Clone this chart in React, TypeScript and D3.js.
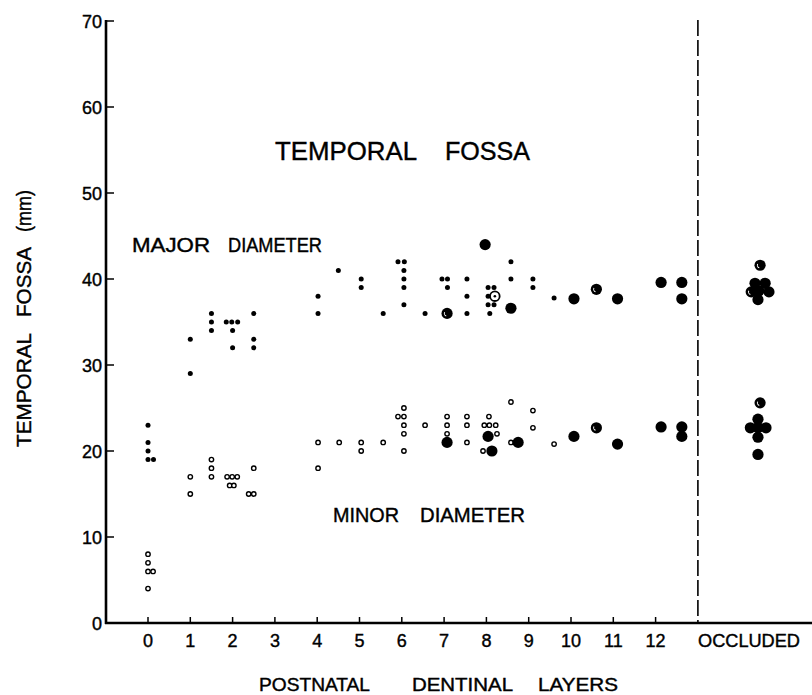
import React from "react";
import * as d3 from "d3";

// ---- data: [postnatal dentinal layers, temporal fossa mm] ----
const majorDots: [number, number][] = [
  [0, 23], [0, 21], [0, 20], [0, 19], [0.13, 19],
  [1, 33], [1, 29],
  [1.5, 36], [1.5, 35], [1.5, 34],
  [1.85, 35], [1.98, 35], [2.12, 35], [2, 34], [2, 32],
  [2.5, 36], [2.5, 33], [2.5, 32],
  [4.02, 38], [4.02, 36],
  [4.5, 41],
  [5.04, 40], [5.04, 39],
  [5.56, 36],
  [5.91, 42], [6.06, 42], [6.05, 41], [6.05, 40], [6.05, 39], [6.05, 37],
  [6.55, 36],
  [6.95, 40], [7.08, 40], [7.08, 39],
  [7.54, 40], [7.54, 38], [7.54, 36],
  [8.04, 39], [8.18, 39], [8.04, 38], [8.04, 37], [8.18, 37], [8.08, 36],
  [8.58, 42], [8.58, 40],
  [9.1, 40], [9.1, 39],
  [9.6, 37.8],
];

const minorRings: [number, number][] = [
  [0, 8], [0, 7], [0, 6], [0.12, 6], [0, 4],
  [1, 17], [1, 15],
  [1.5, 19], [1.5, 18], [1.5, 17],
  [1.87, 17], [1.99, 17], [2.11, 17], [1.93, 16], [2.03, 16],
  [2.5, 18], [2.38, 15], [2.5, 15],
  [4.02, 21], [4.02, 18],
  [4.52, 21],
  [5.04, 21], [5.04, 20],
  [5.56, 21],
  [6.05, 25], [5.91, 24], [6.05, 24], [6.05, 23], [6.05, 22], [6.05, 20],
  [6.55, 23],
  [7.07, 24], [7.07, 23], [7.07, 22],
  [7.54, 24], [7.54, 23], [7.54, 21],
  [8.06, 24], [7.95, 23], [8.07, 23], [8.22, 23], [8.25, 22], [7.92, 20],
  [8.58, 25.7], [8.58, 21],
  [9.1, 24.7], [9.1, 22.7],
  [9.6, 20.8],
];

const largeDots: [number, number][] = [
  [7.97, 44], [8.58, 36.6], [10.07, 37.7], [11.1, 37.7], [12.13, 39.6], [12.62, 39.6], [12.62, 37.7],
  [8.04, 21.7], [8.13, 20], [8.75, 21], [10.07, 21.7], [11.1, 20.8], [12.13, 22.8], [12.62, 22.8], [12.62, 21.7],
  [7.07, 21],
  [14.35, 39.5], [14.59, 39.5], [14.44, 38.6], [14.68, 38.5], [14.42, 37.6],
  [14.42, 23.7], [14.24, 22.7], [14.61, 22.7], [14.42, 22.7], [14.42, 21.6], [14.42, 19.6],
];

const highlightDots: [number, number][] = [
  [7.07, 36], [10.6, 38.8], [14.47, 41.6], [14.26, 38.5],
  [10.6, 22.7], [14.47, 25.6],
];

const openLarge: [number, number][] = [[8.2, 38]];

const xTicks = [0, 1, 2, 3, 4, 5, 6, 7, 8, 9, 10, 11, 12];
const xTickLabels = ["0", "1", "2", "3", "4", "5", "6", "7", "8", "9", "10", "11", "12"];
const yTicks = [0, 10, 20, 30, 40, 50, 60, 70];
const occludedLabel = "OCCLUDED";
const dividerAt = 13;

const FONT = "'Liberation Sans', Arial, sans-serif";

export default function App() {
  const x = d3.scaleLinear().domain([0, 12]).range([148, 655.6]);
  const y = d3.scaleLinear().domain([0, 70]).range([623, 21]);
  const axisX = 106;
  const rightEdge = 812;
  const ts = { fill: "#000", stroke: "#000", strokeWidth: 0.4 };

  return (
    <svg
      width={812}
      height={695}
      style={{ position: "absolute", left: 0, top: 0, background: "#fff" }}
      fontFamily={FONT}
    >
      <rect x={0} y={0} width={812} height={695} fill="#fff" />
      {/* axes */}
      <line x1={axisX} x2={axisX} y1={y(70) - 1} y2={y(0) + 1} stroke="#000" strokeWidth={2.6} />
      <line x1={axisX - 1} x2={rightEdge} y1={y(0)} y2={y(0)} stroke="#000" strokeWidth={2.6} />
      {yTicks.map((t) => (
        <g key={"yt" + t}>
          <line x1={axisX} x2={axisX + 8} y1={y(t)} y2={y(t)} stroke="#000" strokeWidth={1.5} />
          <text x={102} y={y(t) + 6.5} fontSize={18} textAnchor="end" {...ts}>
            {t}
          </text>
        </g>
      ))}
      {xTicks.map((t, i) => (
        <g key={"xt" + t}>
          <line x1={x(t)} x2={x(t)} y1={y(0)} y2={y(0) - 6} stroke="#000" strokeWidth={1.5} />
          <text x={x(t)} y={647} fontSize={18} textAnchor="middle" {...ts}>
            {xTickLabels[i]}
          </text>
        </g>
      ))}
      <text x={698} y={647} fontSize={18} textLength={102} lengthAdjust="spacingAndGlyphs" {...ts}>
        {occludedLabel}
      </text>
      {/* divider */}
      <line
        x1={x(dividerAt)}
        x2={x(dividerAt)}
        y1={y(70) - 1}
        y2={y(0)}
        stroke="#000"
        strokeWidth={1.6}
        strokeDasharray="16,4"
      />
      {/* texts */}
      <text x={275} y={160} fontSize={25} textLength={142} lengthAdjust="spacingAndGlyphs" {...ts}>TEMPORAL</text>
      <text x={445} y={160} fontSize={25} textLength={85} lengthAdjust="spacingAndGlyphs" {...ts}>FOSSA</text>
      <text x={132} y={252} fontSize={19.5} textLength={78} lengthAdjust="spacingAndGlyphs" {...ts}>MAJOR</text>
      <text x={228} y={252} fontSize={19.5} textLength={94} lengthAdjust="spacingAndGlyphs" {...ts}>DIAMETER</text>
      <text x={333} y={522} fontSize={20} textLength={66} lengthAdjust="spacingAndGlyphs" {...ts}>MINOR</text>
      <text x={420} y={522} fontSize={20} textLength={105} lengthAdjust="spacingAndGlyphs" {...ts}>DIAMETER</text>
      <text x={259} y={691} fontSize={18} textLength={111} lengthAdjust="spacingAndGlyphs" {...ts}>POSTNATAL</text>
      <text x={412} y={691} fontSize={18} textLength={101} lengthAdjust="spacingAndGlyphs" {...ts}>DENTINAL</text>
      <text x={538} y={691} fontSize={18} textLength={80} lengthAdjust="spacingAndGlyphs" {...ts}>LAYERS</text>
      <g transform="translate(31,0) rotate(-90)">
        <text x={-447} y={0} fontSize={21} textLength={114} lengthAdjust="spacingAndGlyphs" {...ts}>TEMPORAL</text>
        <text x={-317} y={0} fontSize={21} textLength={70} lengthAdjust="spacingAndGlyphs" {...ts}>FOSSA</text>
        <text x={-232} y={0} fontSize={21} textLength={42} lengthAdjust="spacingAndGlyphs" {...ts}>(mm)</text>
      </g>
      {/* marks */}
      {majorDots.map((d, i) => (
        <circle key={"ma" + i} cx={x(d[0])} cy={y(d[1])} r={2.5} fill="#000" />
      ))}
      {minorRings.map((d, i) => (
        <circle key={"mi" + i} cx={x(d[0])} cy={y(d[1])} r={2.2} fill="#fff" stroke="#000" strokeWidth={1.4} />
      ))}
      {largeDots.map((d, i) => (
        <circle key={"lg" + i} cx={x(d[0])} cy={y(d[1])} r={5.6} fill="#000" />
      ))}
      {highlightDots.map((d, i) => (
        <g key={"hl" + i}>
          <circle cx={x(d[0])} cy={y(d[1])} r={5.6} fill="#000" />
          <path
            d={d3.arc()({ innerRadius: 2.2, outerRadius: 3.2, startAngle: -Math.PI * 0.9, endAngle: -Math.PI * 0.35 }) || ""}
            transform={`translate(${x(d[0])},${y(d[1])})`}
            fill="#fff"
          />
        </g>
      ))}
      {openLarge.map((d, i) => (
        <g key={"ol" + i}>
          <circle cx={x(d[0])} cy={y(d[1])} r={4.8} fill="#fff" stroke="#000" strokeWidth={1.8} />
          <circle cx={x(d[0])} cy={y(d[1])} r={1.3} fill="#000" />
        </g>
      ))}
    </svg>
  );
}
